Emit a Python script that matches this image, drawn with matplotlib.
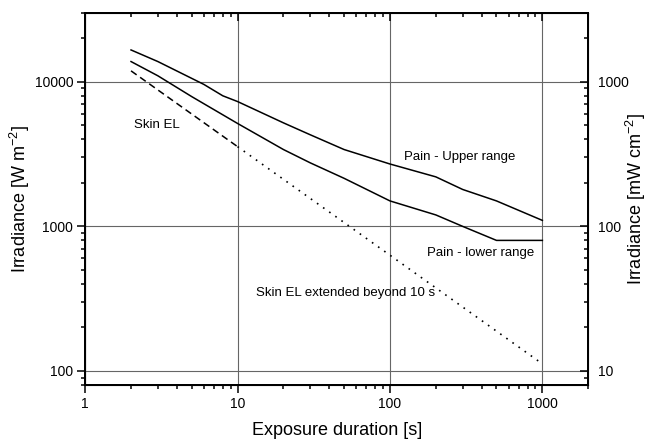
import matplotlib
matplotlib.use("Agg")
import matplotlib.pyplot as plt
from matplotlib.ticker import LogLocator, FixedLocator, FixedFormatter, NullFormatter

plt.rcParams['font.family'] = ['Liberation Sans', 'DejaVu Sans']
plt.rcParams['mathtext.fontset'] = 'custom'
plt.rcParams['mathtext.rm'] = 'Liberation Sans'
plt.rcParams['mathtext.default'] = 'regular'

# exposure durations [s] and irradiance [W m-2]
t_upper = [2, 3, 6, 8, 10, 20, 30, 50, 100, 200, 300, 500, 1000]
e_upper = [16600, 13800, 9600, 8000, 7300, 5200, 4300, 3400, 2700, 2200, 1800, 1500, 1100]

t_lower = [2, 3, 5, 10, 20, 30, 50, 100, 200, 300, 500, 1000]
e_lower = [13800, 11000, 7900, 5150, 3400, 2750, 2150, 1500, 1200, 1000, 800, 800]

t_skin = [2, 10]
e_skin = [11900, 3560]

t_skin_ext = [10, 100, 1000]
e_skin_ext = [3560, 632, 112]

xticks = [1, 10, 100, 1000]
yticks = [100, 1000, 10000]
yticks_right = [10, 100, 1000]

fig = plt.figure(figsize=(6.5, 4.41), dpi=100)
ax = fig.add_axes([0.131, 0.127, 0.774, 0.844])

ax.plot(t_upper, e_upper, color='black', lw=1.1)
ax.plot(t_lower, e_lower, color='black', lw=1.1)
ax.plot(t_skin, e_skin, color='black', lw=1.1, linestyle=(0, (4.5, 2.8)))
ax.plot(t_skin_ext, e_skin_ext, color='black', lw=1.2, linestyle=(0, (1, 3.5)))

ax.set_xscale('log')
ax.set_yscale('log')
ax.set_xlim(1, 2000)
ax.set_ylim(80, 30000)

ax.xaxis.set_major_locator(FixedLocator(xticks))
ax.xaxis.set_major_formatter(FixedFormatter([str(v) for v in xticks]))
ax.xaxis.set_minor_locator(LogLocator(base=10, subs=range(2, 10)))
ax.xaxis.set_minor_formatter(NullFormatter())
ax.yaxis.set_major_locator(FixedLocator(yticks))
ax.yaxis.set_major_formatter(FixedFormatter([str(v) for v in yticks]))
ax.yaxis.set_minor_locator(LogLocator(base=10, subs=range(2, 10)))
ax.yaxis.set_minor_formatter(NullFormatter())

ax.grid(True, which='major', color='#666666', lw=0.8)
ax.tick_params(which='major', direction='out', length=5.5, width=1.1, labelsize=10, pad=3)
ax.tick_params(which='minor', direction='out', length=3, width=1.1)
for s in ax.spines.values():
    s.set_linewidth(1.3)

ax.set_xlabel('Exposure duration [s]', fontsize=13, labelpad=8)
ax.set_ylabel('Irradiance [W m$^{-2}$]', fontsize=13)
ax.yaxis.set_label_coords(-0.105, 0.5)

# right axis in mW cm-2
ax2 = ax.twinx()
ax2.set_yscale('log')
lo, hi = ax.get_ylim()
ax2.set_ylim(lo / 10, hi / 10)
ax2.yaxis.set_major_locator(FixedLocator(yticks_right))
ax2.yaxis.set_major_formatter(FixedFormatter([str(v) for v in yticks_right]))
ax2.yaxis.set_minor_locator(LogLocator(base=10, subs=range(2, 10)))
ax2.yaxis.set_minor_formatter(NullFormatter())
ax2.tick_params(which='major', direction='in', length=5.5, width=1.1, labelsize=10, pad=7)
ax2.tick_params(which='minor', direction='in', length=3, width=1.1)
ax2.set_ylabel('Irradiance [mW cm$^{-2}$]', fontsize=13)
ax2.yaxis.set_label_coords(1.071, 0.5)
for s in ax2.spines.values():
    s.set_linewidth(1.3)

# top axis, ticks only
ax3 = ax.twiny()
ax3.set_xscale('log')
ax3.set_xlim(ax.get_xlim())
ax3.xaxis.set_major_locator(FixedLocator(xticks))
ax3.xaxis.set_minor_locator(LogLocator(base=10, subs=range(2, 10)))
ax3.xaxis.set_major_formatter(NullFormatter())
ax3.xaxis.set_minor_formatter(NullFormatter())
ax3.tick_params(which='major', direction='in', length=5.5, width=1.1)
ax3.tick_params(which='minor', direction='in', length=3, width=1.1)

ax.text(0.097, 0.698, 'Skin EL', transform=ax.transAxes, fontsize=9.5, va='center')
ax.text(0.634, 0.612, 'Pain - Upper range', transform=ax.transAxes, fontsize=9.5, va='center')
ax.text(0.680, 0.355, 'Pain - lower range', transform=ax.transAxes, fontsize=9.5, va='center')
ax.text(0.340, 0.247, 'Skin EL extended beyond 10 s', transform=ax.transAxes, fontsize=9.5, va='center')

fig.savefig('out.png', dpi=100)
